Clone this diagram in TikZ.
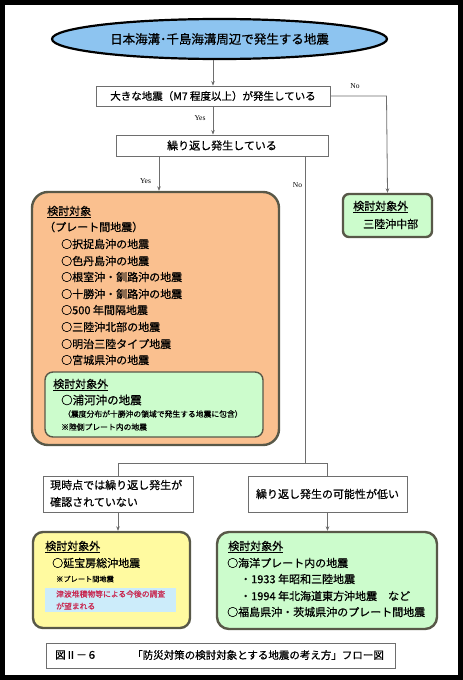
\documentclass[tikz,border=0pt]{standalone}
\usepackage{fontspec}
\setmainfont{Noto Sans CJK JP}[FakeBold=0.6]
\newfontfamily\latinserif{Liberation Serif}
\usetikzlibrary{arrows.meta,shapes.geometric,calc}
\definecolor{ellblue}{RGB}{141,196,240}
\definecolor{orangeF}{RGB}{250,192,143}
\definecolor{greenF}{RGB}{204,252,204}
\definecolor{yellowF}{RGB}{255,250,160}
\definecolor{rborder}{RGB}{88,88,72}
\definecolor{cyanF}{RGB}{204,236,250}
\definecolor{redT}{RGB}{200,40,80}
\definecolor{lineG}{RGB}{110,110,110}
\tikzset{
  plainbox/.style={draw=lineG, line width=0.9pt, fill=white, inner sep=0pt},
  roundbox/.style={draw=rborder, line width=2.4pt, inner sep=0pt},
  txt/.style={inner sep=0pt, anchor=west, font=\fontsize{11}{13}\selectfont},
  ctxt/.style={inner sep=0pt, font=\fontsize{11}{13}\selectfont},
  small/.style={inner sep=0pt, anchor=west, font=\fontsize{7.8}{9}\selectfont},
  yn/.style={inner sep=0pt, font=\latinserif\fontsize{7.5}{9}\selectfont},
  conn/.style={draw=lineG, line width=0.8pt},
  arr/.style={conn, -{Stealth[length=4.5pt,width=3.6pt,fill=black]}},
}
\begin{document}
\begin{tikzpicture}[x=1pt,y=-1pt]
\useasboundingbox (0,0) rectangle (463,680);
\fill[white] (0,0) rectangle (463,680);
\draw[black, line width=4.6pt] (2.3,2.3) rectangle (460.7,677.7);

% top ellipse
\node[ellipse, draw=black, line width=2.2pt, fill=ellblue, minimum width=335pt, minimum height=40pt, inner sep=0pt,
      font=\fontsize{12.5}{14}\selectfont] (ell) at (219.5,39) {日本海溝･千島海溝周辺で発生する地震};

% decision boxes
\node[plainbox, minimum width=234pt, minimum height=20pt, font=\fontsize{10.5}{12}\selectfont] (box1) at (213,96) {大きな地震（M7 程度以上）が発生している};
\node[plainbox, minimum width=212pt, minimum height=21pt, font=\fontsize{11}{13}\selectfont] (box2) at (222,145.5) {繰り返し発生している};

% right small box
\node[roundbox, fill=greenF, rounded corners=6pt, minimum width=89pt, minimum height=43pt] (rbox) at (387.5,215.5) {};
\node[txt] (rbh) at (353,207) {\underline{検討対象外}};
\node[txt] (rbt) at (363,224) {三陸沖中部};

% orange box
\node[roundbox, fill=orangeF, rounded corners=16pt, minimum width=247pt, minimum height=253pt] (obox) at (155.5,318.5) {};
\node[txt] (oh) at (47,212) {\underline{検討対象}};
\node[txt] (o0) at (44,227) {（プレート間地震）};
\node[txt] (o1) at (61,244) {○択捉島沖の地震};
\node[txt] (o2) at (61,261) {○色丹島沖の地震};
\node[txt] (o3) at (61,277) {○根室沖・釧路沖の地震};
\node[txt] (o4) at (61,294) {○十勝沖・釧路沖の地震};
\node[txt] (o5) at (61,310) {○500 年間隔地震};
\node[txt] (o6) at (61,327) {○三陸沖北部の地震};
\node[txt] (o7) at (61,344) {○明治三陸タイプ地震};
\node[txt] (o8) at (61,360) {○宮城県沖の地震};

% inner green box
\node[draw=rborder, line width=1.4pt, fill=greenF, rounded corners=8pt, minimum width=218pt, minimum height=65pt, inner sep=0pt] (ibox) at (154,404.5) {};
\node[txt] (ih) at (53,385) {\underline{検討対象外}};
\node[txt, font=\fontsize{11.5}{13}\selectfont] (i1) at (61,400) {○浦河沖の地震};
\node[small] (i2) at (63,414) {（震度分布が十勝沖の領域で発生する地震に包含）};
\node[small] (i3) at (61,427) {※陸側プレート内の地震};

% second-level boxes
\node[plainbox, minimum width=150pt, minimum height=36pt] (boxL) at (118,494) {};
\node[txt] (bl1) at (50,485) {現時点では繰り返し発生が};
\node[txt] (bl2) at (50,502) {確認されていない};
\node[plainbox, minimum width=159pt, minimum height=36pt, font=\fontsize{11}{13}\selectfont] (boxR) at (327.5,494) {繰り返し発生の可能性が低い};

% yellow box
\node[roundbox, fill=yellowF, rounded corners=10pt, minimum width=157pt, minimum height=96pt] (ybox) at (111.5,580) {};
\node[txt] (yh) at (45,547) {\underline{検討対象外}};
\node[txt] (y1) at (52,563) {○延宝房総沖地震};
\node[small, font=\fontsize{7.2}{9}\selectfont] (y2) at (56,579) {※プレート間地震};
\node[fill=cyanF, minimum width=131pt, minimum height=24pt, inner sep=0pt] (cbox) at (110.5,600) {};
\node[small, text=redT] (c1) at (56,594) {津波堆積物等による今後の調査};
\node[small, text=redT] (c2) at (56,606) {が望まれる};

% green right box
\node[roundbox, fill=greenF, rounded corners=12pt, minimum width=220pt, minimum height=97pt] (gbox) at (327,580.5) {};
\node[txt] (gh) at (228,547) {\underline{検討対象外}};
\node[txt] (g1) at (227,563) {○海洋プレート内の地震};
\node[txt] (g2) at (240,579) {・1933 年昭和三陸地震};
\node[txt] (g3) at (240,596) {・1994 年北海道東方沖地震\quad など};
\node[txt] (g4) at (227,612) {○福島県沖・茨城県沖のプレート間地震};

% caption
\node[draw=lineG, line width=0.9pt, minimum width=349pt, minimum height=25pt, inner sep=0pt] (cap) at (220.5,655.5) {};
\node[txt, font=\fontsize{10.5}{12}\selectfont] (cap1) at (55,655) {図Ⅱ－６};
\node[txt, font=\fontsize{10.5}{12}\selectfont] (cap2) at (132,655) {「防災対策の検討対象とする地震の考え方」フロー図};

% connectors
\coordinate (noturn) at (386.5,96);
\coordinate (yesx) at (159,0);
\coordinate (nox) at (305,0);
\coordinate (split) at (305,463);
\coordinate (splitL) at (118,463);
\coordinate (splitR) at (327.5,463);

\draw[arr] (box1.north |- ell.south) -- (box1.north);
\draw[arr] (box1.south) -- (box1.south |- box2.north);
\draw[arr] (box1.east) -- (noturn) -- (rbox.north);
\draw[arr] (box2.south -| yesx) -- (obox.north -| yesx);
\draw[conn] (box2.south -| nox) -- (split);
\draw[conn] (boxL.north) -- (splitL) -- (splitR) -- (boxR.north);
\draw[arr] (boxL.south) -- (ybox.north -| boxL.south);
\draw[arr] (boxR.south) -- (gbox.north -| boxR.south);

% yes/no labels
\node[yn] (no1) at (355,86) {No};
\node[yn] (yes1) at (200,118) {Yes};
\node[yn] (yes2) at (145.5,181) {Yes};
\node[yn] (no2) at (297.5,185) {No};
\end{tikzpicture}
\end{document}
